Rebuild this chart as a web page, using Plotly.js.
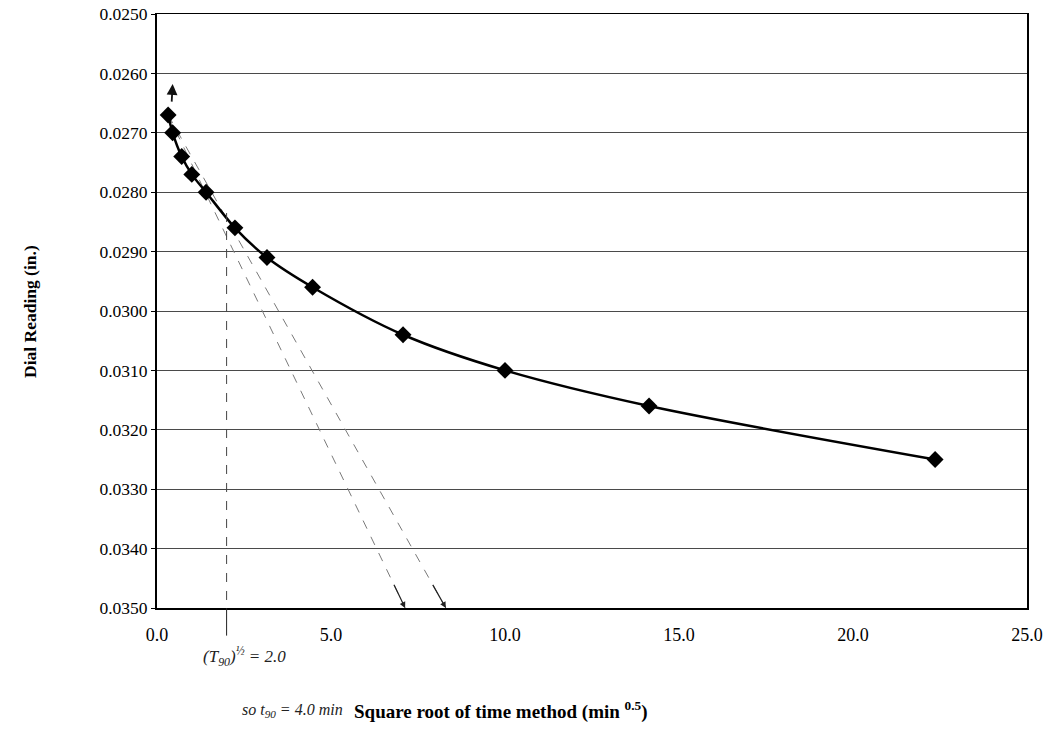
<!DOCTYPE html>
<html>
<head>
<meta charset="utf-8">
<script src="https://cdn.plot.ly/plotly-3.0.1.min.js"></script>
<style>html,body{margin:0;padding:0;background:#fff;}#chart{width:1051px;height:746px;}</style>
</head>
<body>
<div id="chart"></div>
<script>
// Square root of time (min^0.5) and dial readings (in.)
const sqrtTime = [0.32, 0.45, 0.71, 1.00, 1.41, 2.24, 3.16, 4.47, 7.07, 10.00, 14.14, 22.36];
const dialReading = [0.0267, 0.0270, 0.0274, 0.0277, 0.0280, 0.0286, 0.0291, 0.0296, 0.0304, 0.0310, 0.0316, 0.0325];

// Hand-drawn construction lines
const tangentX = [0.32, 7.13];
const tangentY = [0.0267, 0.0350];
const line115X = [0.32, 8.30];
const line115Y = [0.0267, 0.0350];
const sqrtT90 = 2.0;
const sqrtT90Top = 0.02835;

const yTickVals = [0.025, 0.026, 0.027, 0.028, 0.029, 0.030, 0.031, 0.032, 0.033, 0.034, 0.035];
const xTickVals = [0, 5, 10, 15, 20, 25];

const serif = "Liberation Serif, Times New Roman, serif";

function nearEnd(xs, ys, f) {
  return [xs[0] + (xs[1] - xs[0]) * f, ys[0] + (ys[1] - ys[0]) * f];
}
const t1 = nearEnd(tangentX, tangentY, 0.95);
const t2 = nearEnd(line115X, line115Y, 0.95);

const traces = [
  {x: tangentX, y: tangentY, mode: 'lines', line: {color: '#7a7a7a', width: 1, dash: 'dash'}, hoverinfo: 'skip'},
  {x: line115X, y: line115Y, mode: 'lines', line: {color: '#7a7a7a', width: 1, dash: 'dash'}, hoverinfo: 'skip'},
  {x: sqrtTime, y: dialReading, mode: 'lines+markers',
   line: {color: '#000', width: 2.5, shape: 'spline', smoothing: 0.9},
   marker: {symbol: 'diamond', size: 13, color: '#000'}}
];

const layout = {
  width: 1051, height: 746,
  margin: {l: 157, r: 24, t: 14, b: 138},
  paper_bgcolor: '#fff', plot_bgcolor: '#fff',
  showlegend: false,
  font: {family: serif, color: '#000', size: 16},
  xaxis: {
    range: [0, 25], tickvals: xTickVals, tickformat: '.1f',
    showgrid: false, zeroline: false,
    showline: true, linecolor: '#000', linewidth: 1.5, mirror: true,
    ticks: '', ticklabelstandoff: 10,
    tickfont: {family: serif, size: 18, color: '#000'}
  },
  yaxis: {
    range: [0.035, 0.025], tickvals: yTickVals, tickformat: '.4f',
    showgrid: true, gridcolor: '#4a4a4a', gridwidth: 1, zeroline: false,
    showline: true, linecolor: '#000', linewidth: 2, mirror: true,
    ticks: 'outside', ticklen: 4, tickcolor: '#000',
    tickfont: {family: serif, size: 17.5, color: '#000'}
  },
  shapes: [
    {type: 'line', xref: 'x', yref: 'y', x0: sqrtT90, x1: sqrtT90, y0: sqrtT90Top, y1: 0.035,
     line: {color: '#444', width: 1, dash: 'dash'}}
  ],
  annotations: [
    {xref: 'paper', yref: 'paper', x: -0.146, y: 0.5, text: '<b>Dial Reading (in.)</b>', textangle: -90,
     showarrow: false, xanchor: 'center', yanchor: 'middle', font: {family: serif, size: 17.5, color: '#000'}},
    {xref: 'paper', yref: 'paper', x: 0.224, y: -0.172, text: '<b>Square root of time method (min <sup>0.5</sup>)</b>',
     showarrow: false, xanchor: 'left', yanchor: 'middle', font: {family: serif, size: 19, color: '#000'}},
    {xref: 'paper', yref: 'paper', x: 0.216, y: -0.172, text: '<i>so t<sub>90</sub> = 4.0 min</i>',
     showarrow: false, xanchor: 'right', yanchor: 'middle', font: {family: serif, size: 16, color: '#222'}},
    {xref: 'paper', yref: 'paper', x: 0.05, y: -0.082, text: '<i>(T<sub>90</sub>)<sup>½</sup> = 2.0</i>',
     showarrow: false, xanchor: 'left', yanchor: 'middle', font: {family: serif, size: 17, color: '#222'}},
    // vertical line extension below axis
    {xref: 'x', yref: 'y', axref: 'x', ayref: 'y', x: sqrtT90, y: 0.035, ax: sqrtT90, ay: 0.03549,
     text: '', showarrow: true, arrowhead: 0, arrowwidth: 1, arrowcolor: '#222', standoff: 0, startstandoff: 0},
    // arrowheads at ends of construction lines
    {xref: 'x', yref: 'y', axref: 'x', ayref: 'y', x: tangentX[1], y: tangentY[1], ax: t1[0], ay: t1[1],
     text: '', showarrow: true, arrowhead: 2, arrowsize: 1, arrowwidth: 1.2, arrowcolor: '#222', standoff: 0},
    {xref: 'x', yref: 'y', axref: 'x', ayref: 'y', x: line115X[1], y: line115Y[1], ax: t2[0], ay: t2[1],
     text: '', showarrow: true, arrowhead: 2, arrowsize: 1, arrowwidth: 1.2, arrowcolor: '#222', standoff: 0},
    // small hand-drawn arrow near top
    {xref: 'x', yref: 'y', axref: 'x', ayref: 'y', x: 0.45, y: 0.02618, ax: 0.42, ay: 0.02650,
     text: '', showarrow: true, arrowhead: 2, arrowsize: 1.2, arrowwidth: 1.8, arrowcolor: '#111', standoff: 0}
  ]
};

Plotly.newPlot('chart', traces, layout, {staticPlot: true, displayModeBar: false});
</script>
</body>
</html>
